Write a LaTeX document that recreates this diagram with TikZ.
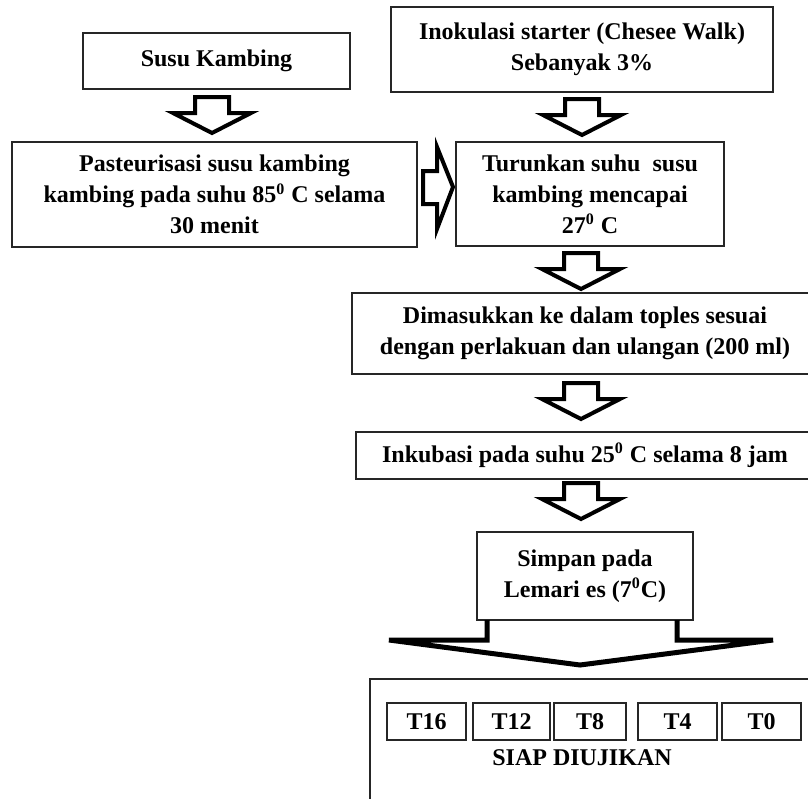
\documentclass[tikz,border=0pt]{standalone}
\usepackage{fontspec}
\setmainfont{Liberation Serif}
\usetikzlibrary{calc}

\tikzset{
    kotak/.style={draw=black!85, line width=0.8pt, align=center, inner sep=0pt,
                  font=\bfseries\fontsize{12}{15.5}\selectfont},
    panah/.style={draw=black, line width=2pt, line join=miter},
    panahbawah/.pic={\draw [panah] (-17,0) -- (-17,16) -- (-39,16) -- (0,36)
                     -- (39,16) -- (17,16) -- (17,0) -- cycle;}
}

\begin{document}
\begin{tikzpicture}[x=0.5pt,y=-0.5pt]
        \useasboundingbox (0,0) rectangle (808,798);
        \clip (0,0) rectangle (808,798);
        % kotak proses
        \node [kotak, minimum width=133.5pt, minimum height=28pt] (susu) at (216.5,61) {Susu Kambing};
        \node [kotak, minimum width=191pt, minimum height=42.5pt] (inok) at (582,49.5)
            {Inokulasi starter (Chesee Walk)\\Sebanyak 3\%};
        \node [kotak, minimum width=202.5pt, minimum height=52.5pt] (past) at (214.5,194.5)
            {Pasteurisasi susu kambing\\kambing pada suhu 85\textsuperscript{0} C selama\\30 menit};
        \node [kotak, minimum width=134pt, minimum height=52pt] (turun) at (590,194)
            {Turunkan suhu\ \ susu\\kambing mencapai\\27\textsuperscript{0} C};
        \node [kotak, minimum width=233pt, minimum height=40.5pt] (masuk) at (585,333.5)
            {Dimasukkan ke dalam toples sesuai\\dengan perlakuan dan ulangan (200 ml)};
        \node [kotak, minimum width=229pt, minimum height=23.5pt] (inku) at (585,455.5)
            {Inkubasi pada suhu 25\textsuperscript{0} C selama 8 jam};
        \node [kotak, minimum width=108pt, minimum height=44pt] (simpan) at (585,576)
            {Simpan pada\\Lemari es (7\textsuperscript{0}C)};
        % kotak akhir
        \node [kotak, minimum width=230pt, minimum height=85.5pt] (siapbox) at (600,764.5) {};
        \node [kotak, minimum width=39.5pt, minimum height=18.5pt] (t16) at (426.5,721.5) {T16};
        \node [kotak, minimum width=38.5pt, minimum height=18.5pt] (t12) at (511.5,721.5) {T12};
        \node [kotak, minimum width=36pt, minimum height=18.5pt] (t8) at (590,721.5) {T8};
        \node [kotak, minimum width=39.5pt, minimum height=18.5pt] (t4) at (677.5,721.5) {T4};
        \node [kotak, minimum width=39.5pt, minimum height=18.5pt] (t0) at (761.5,721.5) {T0};
        \node [kotak, draw=none] (siap) at (582,758) {SIAP DIUJIKAN};
        % panah blok
        \pic at (212,97) {panahbawah};
        \pic at (582,99) {panahbawah};
        \pic at (581,253) {panahbawah};
        \pic at (581,383) {panahbawah};
        \pic at (581,483) {panahbawah};
        \draw [panah] (423,171) -- (437,171) -- (437,147) -- (453,187)
                      -- (437,229) -- (437,204) -- (423,204) -- cycle;
        % panah besar
        \draw [panah, line width=2.5pt] (487,620) -- (487,640) -- (389,640) -- (580,665)
                      -- (773,640) -- (677,640) -- (677,620);
\end{tikzpicture}
\end{document}
